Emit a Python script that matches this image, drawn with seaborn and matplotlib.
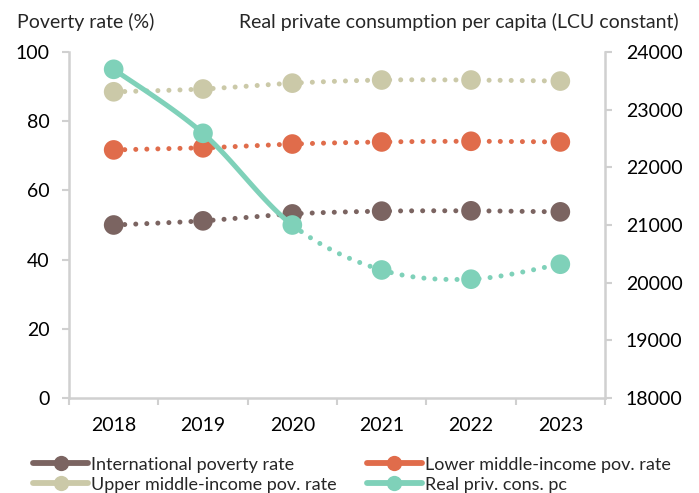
import numpy as np
import matplotlib
matplotlib.use("Agg")
import matplotlib.pyplot as plt
import seaborn as sns
from matplotlib.lines import Line2D

years = ['2018', '2019', '2020', '2021', '2022', '2023']
intl_pov = [50.0, 51.2, 53.2, 54.0, 54.1, 53.8]
lower_mid = [71.7, 72.3, 73.4, 74.0, 74.2, 74.0]
upper_mid = [88.5, 89.3, 91.0, 91.9, 91.9, 91.6]
real_cons = [23700, 22590, 21000, 20220, 20060, 20320]

c_intl = '#7b6461'
c_lower = '#e06c4b'
c_upper = '#cbc9a8'
c_real = '#7fd1b9'
spine_c = '#d0d0d0'

sns.set_theme(style='white')
plt.rcParams['font.family'] = ['Lato', 'DejaVu Sans']
plt.rcParams['font.size'] = 14


def smooth(x, y, n=40):
    # excel-like smoothed line (bezier through points)
    P = np.column_stack([x, y]).astype(float)
    xs, ys = [], []
    for i in range(len(P) - 1):
        p0 = P[i - 1] if i > 0 else P[i]
        p1, p2 = P[i], P[i + 1]
        p3 = P[i + 2] if i + 2 < len(P) else P[i + 1]
        c1 = p1 + (p2 - p0) / 6
        c2 = p2 - (p3 - p1) / 6
        t = np.linspace(0, 1, n)[:, None]
        b = (1 - t) ** 3 * p1 + 3 * (1 - t) ** 2 * t * c1 + 3 * (1 - t) * t ** 2 * c2 + t ** 3 * p2
        xs.append(b[:, 0]); ys.append(b[:, 1])
    return xs, ys


dot = dict(linestyle=(0, (0.01, 2.2)), dash_capstyle='round', linewidth=3.6)
xpos = np.arange(len(years))

fig = plt.figure(figsize=(6.99, 4.93), dpi=100)
ax = fig.add_axes([69 / 699, 1 - 398 / 493, (605 - 69) / 699, (398 - 52) / 493])
ax2 = ax.twinx()

for vals, col in [(intl_pov, c_intl), (lower_mid, c_lower), (upper_mid, c_upper)]:
    xs, ys = smooth(xpos, vals)
    ax.plot(np.concatenate(xs), np.concatenate(ys), color=col, **dot)
    sns.scatterplot(x=xpos, y=vals, ax=ax, color=col, s=200, edgecolor='none', zorder=3)

xs, ys = smooth(xpos, real_cons)
ax2.plot(np.concatenate(xs[:2]), np.concatenate(ys[:2]), color=c_real, linewidth=3.6, solid_capstyle='round')
ax2.plot(np.concatenate(xs[2:]), np.concatenate(ys[2:]), color=c_real, **dot)
sns.scatterplot(x=xpos, y=real_cons, ax=ax2, color=c_real, s=200, edgecolor='none', zorder=3)

ax.set_xlim(-0.5, 5.5)
ax.set_ylim(0, 100)
ax2.set_ylim(18000, 24000)
ax.set_yticks(range(0, 101, 20))
ax2.set_yticks(range(18000, 24001, 1000))
ax.set_xticks(xpos, labels=years)
ax.set_xticks(np.arange(-0.5, 6, 1), minor=True)
ax.tick_params(axis='x', which='major', length=0, pad=14, labelsize=14, colors='black')
ax.tick_params(axis='x', which='minor', length=5, width=1.5, color=spine_c, direction='out', bottom=True)
ax.tick_params(axis='y', length=5, width=1.5, color=spine_c, direction='out', pad=9, labelsize=14, left=True, labelcolor='black')
ax2.tick_params(axis='y', length=5, width=1.5, color=spine_c, direction='out', pad=10, labelsize=14, right=True, labelcolor='black')
ax.set_xlabel('')
ax.set_ylabel('')
ax2.set_ylabel('')

for a in (ax, ax2):
    for s in a.spines.values():
        s.set_color(spine_c)
        s.set_linewidth(1.8)
    a.spines['top'].set_visible(False)
ax.spines['right'].set_visible(False)
ax2.spines['left'].set_visible(False)
ax2.spines['bottom'].set_visible(False)

fig.text(17 / 699, 1 - 22 / 493, 'Poverty rate (%)', ha='left', va='center', fontsize=14)
fig.text(679 / 699, 1 - 22 / 493, 'Real private consumption per capita (LCU constant)',
         ha='right', va='center', fontsize=14)

handles = [Line2D([], [], color=c, linewidth=4.2, marker='o', markersize=11, markeredgewidth=0)
           for c in (c_intl, c_upper, c_lower, c_real)]
labels = ['International poverty rate', 'Upper middle-income pov. rate',
          'Lower middle-income pov. rate', 'Real priv. cons. pc']
fig.legend(handles, labels, ncol=2, loc='lower left', bbox_to_anchor=(26 / 699, -7 / 493),
           frameon=False, handlelength=3.05, handletextpad=0.17, columnspacing=1.65,
           labelspacing=0.22, fontsize=13, borderaxespad=0.0)

fig.savefig('out.png', dpi=100)
